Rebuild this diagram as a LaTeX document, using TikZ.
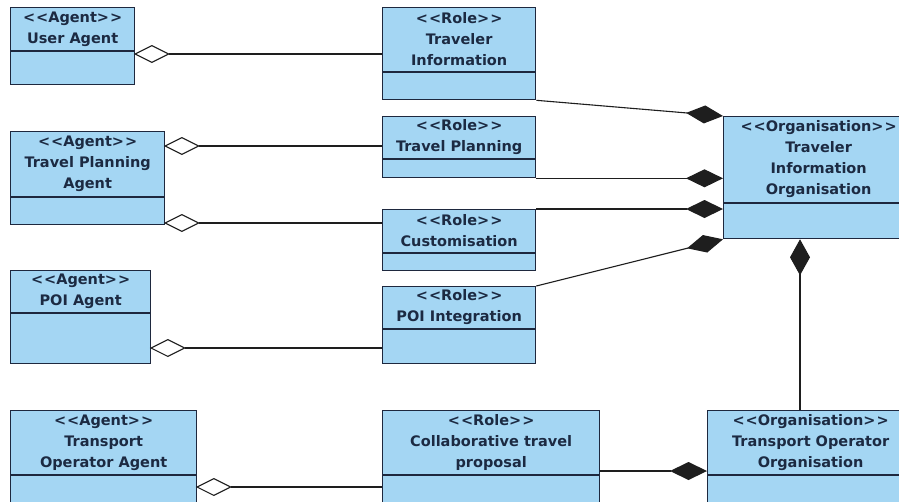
\documentclass[tikz,border=0pt]{standalone}
\usepackage{fontspec}
\setmainfont{DejaVu Sans}
\usetikzlibrary{arrows.meta,calc}
\definecolor{boxfill}{RGB}{164,214,243}
\definecolor{boxline}{RGB}{30,40,62}
\definecolor{txtc}{RGB}{28,42,66}
\definecolor{linec}{RGB}{30,30,30}
\tikzset{
  umlbox/.style={draw=boxline, fill=boxfill, line width=1.3pt, inner sep=0pt, anchor=north west},
  lbl/.style={text=txtc, font=\bfseries\fontsize{14.5}{21}\selectfont, align=center, inner sep=0pt},
  conn/.style={draw=linec, line width=1.1pt},
  agg/.style={conn, {Diamond[open, length=36pt, width=18pt, fill=white]}-, shorten <=-1.5pt},
  comp/.style={conn, -{Diamond[length=37pt, width=18pt]}}
}
% #1 name, #2 x, #3 y, #4 width, #5 height, #6 header height, #7 text
\newcommand{\classbox}[7]{%
  \node[umlbox, minimum width=#4pt, minimum height=#5pt] (#1) at (#2,#3) {};
  \draw[boxline, line width=1.3pt] ($(#1.north west)+(0,#6)$) -- ($(#1.north east)+(0,#6)$);
  \node[lbl] (#1-t) at ($(#1.north)+(0,#6/2)$) {#7};
}
\newcommand{\st}[1]{<\kern1pt<#1>\kern1pt>}
\begin{document}
\begin{tikzpicture}[x=1pt,y=-1pt]
\useasboundingbox (0,0) rectangle (899,501);
\clip (0,0) rectangle (899,501);
\fill[white] (0,0) rectangle (899,501);

\classbox{ua}{10}{7}{124}{77}{44}{\st{Agent}\\User Agent}
\classbox{tpa}{10}{131}{154}{93}{66}{\st{Agent}\\Travel Planning\\Agent}
\classbox{poia}{10}{270}{140}{93}{43}{\st{Agent}\\POI Agent}
\classbox{toa}{10}{410}{186}{110}{65}{\st{Agent}\\Transport\\Operator Agent}
\classbox{ti}{382}{7}{153}{92}{65}{\st{Role}\\Traveler\\Information}
\classbox{tp}{382}{116}{153}{61}{43}{\st{Role}\\Travel Planning}
\classbox{cu}{382}{209}{153}{61}{44}{\st{Role}\\Customisation}
\classbox{poi}{382}{286}{153}{77}{43}{\st{Role}\\POI Integration}
\classbox{co}{382}{410}{217}{110}{65}{\st{Role}\\Collaborative travel\\proposal}
\classbox{tio}{723}{116}{190}{122}{87}{\st{Organisation}\\Traveler\\Information\\Organisation}
\classbox{too}{707}{410}{206}{110}{65}{\st{Organisation}\\Transport Operator\\Organisation}

% aggregations
\draw[agg] ($(ua.north east)+(0,47)$) coordinate (a1) -- (a1 -| ti.west);
\draw[agg] ($(tpa.north east)+(0,15)$) coordinate (a2) -- (a2 -| tp.west);
\draw[agg] ($(tpa.north east)+(0,92)$) coordinate (a3) -- (a3 -| cu.west);
\draw[agg] ($(poia.north east)+(0,78)$) coordinate (a4) -- (a4 -| poi.west);
\draw[agg] ($(toa.north east)+(0,77)$) coordinate (a5) -- (a5 -| co.west);

% compositions
\draw[comp] (ti.south east) -- (tio.north west);
\draw[comp] (tp.south east) -- (tp.south east -| tio.west);
\draw[comp] (cu.north east) -- (cu.north east -| tio.west);
\draw[comp] (poi.north east) -- (tio.south west);
\coordinate (v1) at ($(tio.south west)+(77,0)$);
\draw[conn, -{Diamond[length=36pt, width=20pt]}] (too.north -| v1) -- (v1);
\draw[comp] ($(co.north east)+(0,61)$) coordinate (c1) -- (c1 -| too.west);
\end{tikzpicture}
\end{document}
